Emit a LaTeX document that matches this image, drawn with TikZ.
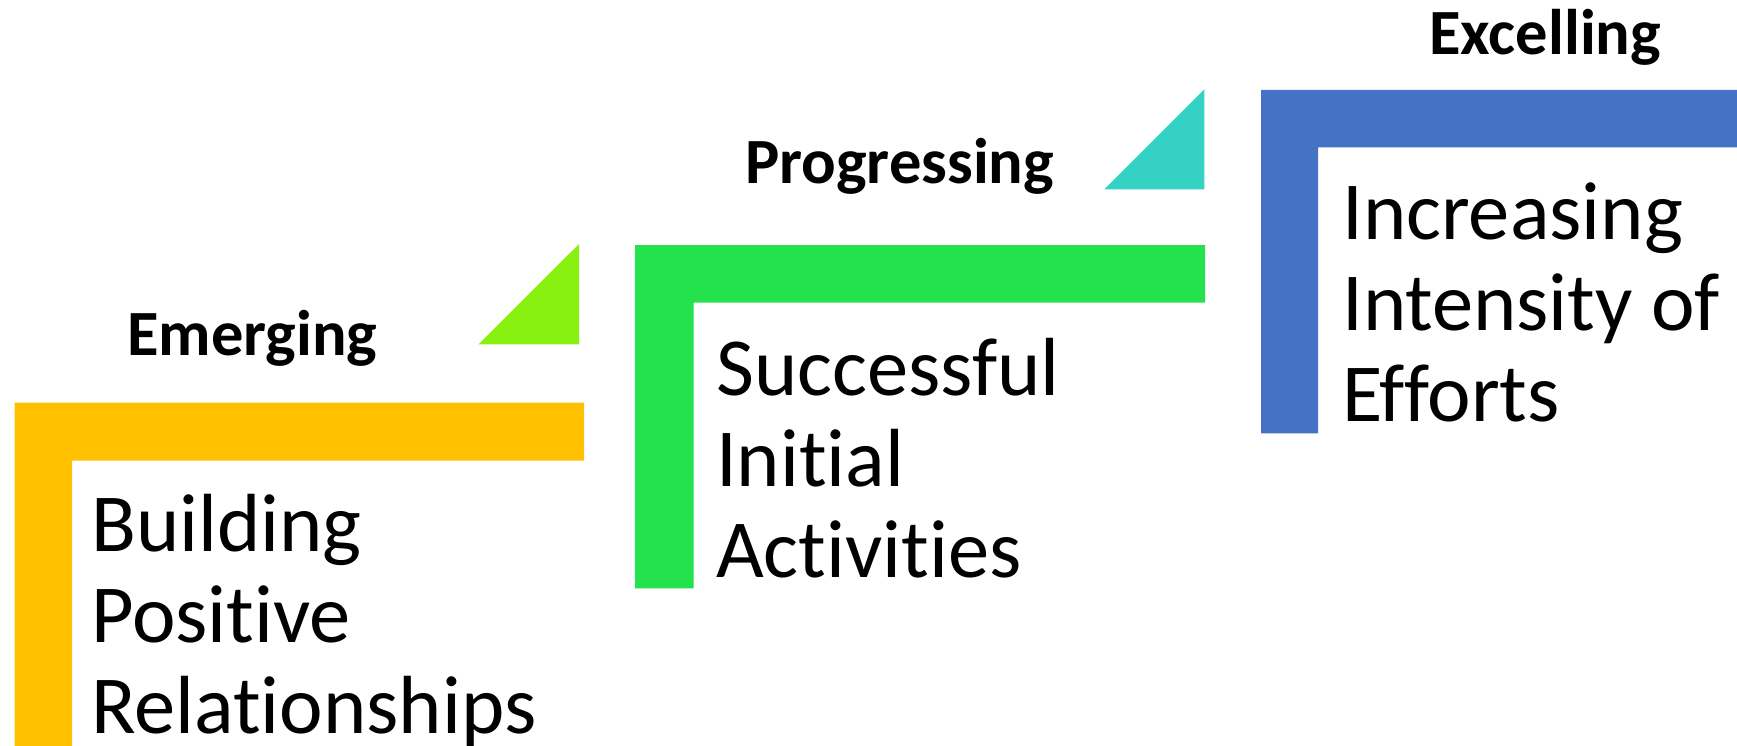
\documentclass[tikz,border=0pt]{standalone}
\usepackage{fontspec}
\setmainfont{Carlito}[RawFeature={-liga;-clig;-dlig}]
\definecolor{cyellow}{HTML}{FFC000}
\definecolor{clime}{HTML}{88F010}
\definecolor{cgreen}{HTML}{23E24B}
\definecolor{cteal}{HTML}{35D2C4}
\definecolor{cblue}{HTML}{4472C4}
\begin{document}
\begin{tikzpicture}[x=1pt,y=-1pt,
  stepbody/.style={anchor=base west,inner sep=0pt,font=\fontsize{82.5pt}{91pt}\selectfont},
  steplabel/.style={anchor=base west,inner sep=0pt,font=\fontsize{64.5pt}{70pt}\selectfont\bfseries}]
\useasboundingbox (0,0) rectangle (1737,746);
% L shapes
\fill[cyellow] (14.5,402.7) -- (584,402.7) -- (584,460.7) -- (72,460.7) -- (72,746) -- (14.5,746) -- cycle;
\fill[cgreen] (635,245) -- (1205,245) -- (1205,302.7) -- (693.5,302.7) -- (693.5,588.3) -- (635,588.3) -- cycle;
\fill[cblue] (1261,90) -- (1737,90) -- (1737,147.3) -- (1318,147.3) -- (1318,433.3) -- (1261,433.3) -- cycle;
% triangles
\fill[clime] (478.5,344.4) -- (579,344.4) -- (579,244) -- cycle;
\fill[cteal] (1104.3,189.3) -- (1204.4,189.3) -- (1204.4,89.3) -- cycle;
% body texts
\node[stepbody] (t1) at (91,551.7) {\begin{tabular}[t]{@{}l@{}}Building\\Positive\\Relationships\end{tabular}};
\node[stepbody] (t2) at (716,395.7) {\begin{tabular}[t]{@{}l@{}}Successful\\Initial\\Activities\end{tabular}};
\node[stepbody] (t3) at (1342,240) {\begin{tabular}[t]{@{}l@{}}Increasing\\Intensity of\\Efforts\end{tabular}};
% labels
\node[steplabel] (l1) at (127,355) {Emerging};
\node[steplabel] (l2) at (745,184) {Progressing};
\node[steplabel] (l3) at (1429,54.3) {Excelling};
\end{tikzpicture}
\end{document}
